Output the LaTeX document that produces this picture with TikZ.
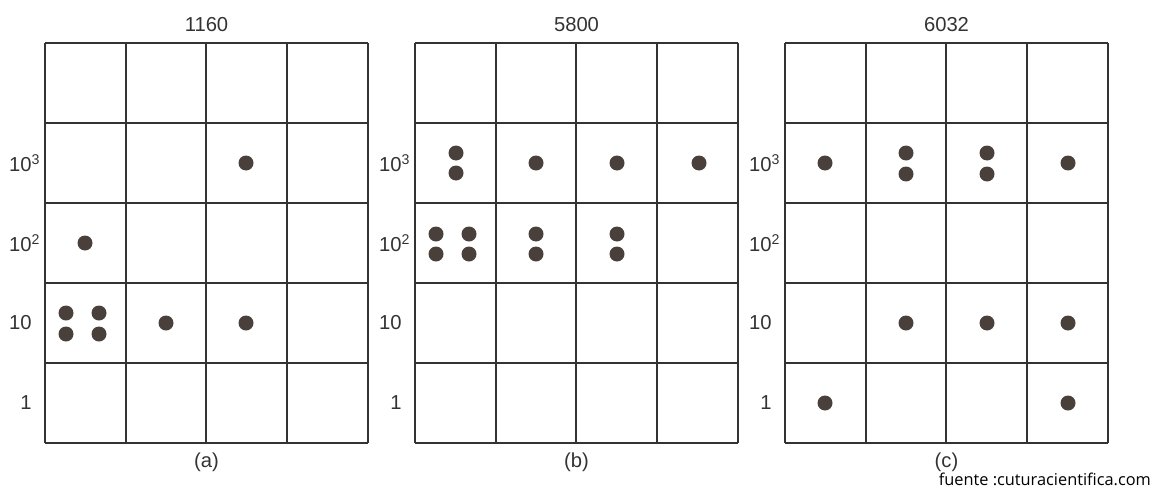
\documentclass[tikz,border=0pt]{standalone}
\usepackage{fontspec}
\setmainfont{Liberation Sans}
\newfontfamily\notefont{Open Sans}
\definecolor{beadcol}{HTML}{4A403B}
\definecolor{inkcol}{HTML}{333333}
\newcommand{\bead}[2]{\fill[bead] (#1,#2) circle (7.5);}
\begin{document}
\begin{tikzpicture}[x=0.02cm, y=-0.02cm,
                    grid line/.style={draw=inkcol, line width=1.1pt},
                    bead/.style={fill=beadcol},
                    title/.style={font=\fontsize{11.5}{13}\selectfont, text=inkcol},
                    row label/.style={anchor=east, inner sep=0pt, font=\fontsize{11.5}{13}\selectfont, text=inkcol}]
  \useasboundingbox (0,0) rectangle (1155,490);

  % three counting boards
  \foreach \gx/\name/\num in {45/a/1160, 415/b/5800, 785/c/6032} {
    \foreach \cx in {0,81,161,242,323}
      \draw[grid line] (\gx+\cx,43) -- (\gx+\cx,443);
    \foreach \j in {0,...,5}
      \draw[grid line] (\gx,43+\j*80) -- (\gx+323,43+\j*80);
    \node[title] (num\name) at (\gx+161.5,25) {\num};
    \node[title] (cap\name) at (\gx+161.5,462) {(\name)};
    \node[row label] (k\name) at (\gx-13,163) {10\rlap{\textsuperscript{3}}};
    \node[row label] (h\name) at (\gx-13,243) {10\rlap{\textsuperscript{2}}};
    \node[row label] (t\name) at (\gx-13,323) {10};
    \node[row label] (u\name) at (\gx-13,403) {1};
  }

  % (a) 1160
  \bead{246}{163}
  \bead{85}{243}
  \bead{66}{313} \bead{66}{334} \bead{99}{313} \bead{99}{334}
  \bead{166}{323} \bead{246}{323}

  % (b) 5800
  \bead{456}{153} \bead{456}{173} \bead{536}{163} \bead{617}{163} \bead{699}{163}
  \bead{436}{234} \bead{436}{254} \bead{469}{234} \bead{469}{254}
  \bead{536}{234} \bead{536}{254} \bead{617}{234} \bead{617}{254}

  % (c) 6032
  \bead{825}{163} \bead{906}{153} \bead{906}{174}
  \bead{987}{153} \bead{987}{174} \bead{1068}{163}
  \bead{906}{323} \bead{987}{323} \bead{1068}{323}
  \bead{825}{403} \bead{1068}{403}

  \node[anchor=south east, inner sep=1pt, text=black,
        font=\notefont\fontsize{9.3}{11}\selectfont] (src) at (1153,488)
        {fuente :cuturacientifica.com};
\end{tikzpicture}
\end{document}
